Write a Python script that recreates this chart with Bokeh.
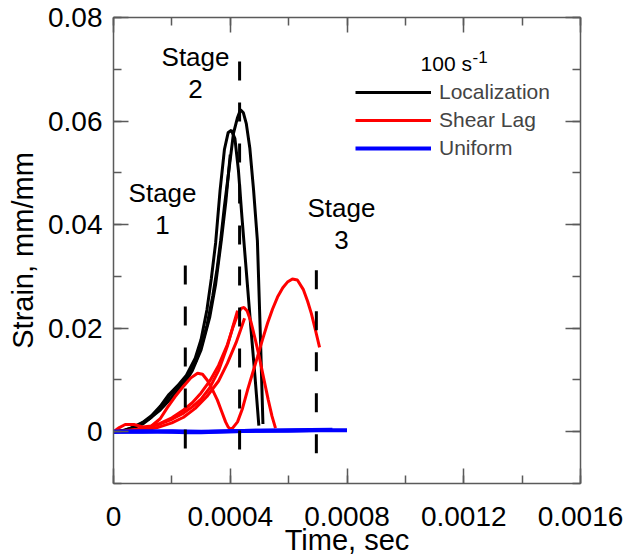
from bokeh.plotting import figure
from bokeh.models import (Range1d, LinearAxis, SingleIntervalTicker, CustomJSTickFormatter,
                          Label, Legend, LegendItem, ColumnDataSource)
from bokeh.core.properties import value
from bokeh.embed import file_html
from bokeh.resources import INLINE

FONT = "Liberation Sans"

# ---------------- data ----------------
# Localization (black)
loc_x1 = [0, 0.00003, 0.00006, 0.0001, 0.00013, 0.00016, 0.00019, 0.00022, 0.00025, 0.00028, 0.0003,
          0.00032, 0.000335, 0.00035, 0.000365, 0.00038, 0.000393, 0.000404, 0.000416, 0.000428,
          0.00044, 0.000455, 0.00047, 0.000485, 0.000498]
loc_y1 = [0, 0.0002, 0.0007, 0.0018, 0.0031, 0.0049, 0.0072, 0.0089, 0.0109, 0.0142, 0.0178,
          0.0235, 0.0295, 0.0365, 0.0465, 0.0545, 0.0578, 0.0582, 0.0566, 0.0505,
          0.0415, 0.031, 0.0205, 0.0105, 0.0012]
loc_x2 = [0, 0.00003, 0.00006, 0.0001, 0.00013, 0.00016, 0.00019, 0.00022, 0.00025, 0.00028, 0.0003,
          0.00032, 0.00034, 0.000355, 0.000367, 0.00038, 0.000394, 0.000411, 0.000425, 0.000435,
          0.000445, 0.000455, 0.000467, 0.00048, 0.000493, 0.000503, 0.000512]
loc_y2 = [0, 0.0001, 0.0005, 0.0015, 0.0028, 0.0045, 0.0068, 0.0085, 0.0104, 0.0133, 0.0163,
          0.0205, 0.0262, 0.0315, 0.0369, 0.0435, 0.0499, 0.0576, 0.0607, 0.0622,
          0.0616, 0.0595, 0.0548, 0.0466, 0.0369, 0.019, 0.0015]
loc_x3 = [0, 0.00004, 0.00008, 0.00012, 0.00016, 0.0002, 0.00024, 0.00027, 0.0003, 0.00033,
          0.00035, 0.00037, 0.000385, 0.0004]
loc_y3 = [0, 0.0003, 0.0011, 0.0024, 0.0042, 0.0066, 0.0091, 0.0118, 0.0158, 0.0222,
          0.0285, 0.0372, 0.0445, 0.0535]

# Shear Lag (red)
sl_x1 = [0, 0.00004, 0.00008, 0.00012, 0.00016, 0.0002, 0.00024, 0.00027, 0.0003, 0.00033,
         0.00036, 0.00039, 0.00041, 0.000425]
sl_y1 = [0, 0.0002, 0.0005, 0.0009, 0.0015, 0.0024, 0.0036, 0.0048, 0.0063, 0.0085,
         0.0118, 0.0165, 0.0205, 0.0234]
sl_x2 = [0, 0.00004, 0.00008, 0.00012, 0.00016, 0.0002, 0.00024, 0.00027, 0.0003, 0.00033,
         0.00036, 0.00039, 0.00041, 0.000425, 0.000437, 0.000447, 0.000458, 0.00047, 0.000485,
         0.0005, 0.000515, 0.00053, 0.000543, 0.000555]
sl_y2 = [0, 0.0001, 0.0004, 0.0009, 0.0016, 0.0027, 0.0042, 0.0056, 0.0075, 0.0098,
         0.0128, 0.0168, 0.0203, 0.0226, 0.0238, 0.024, 0.0233, 0.0214, 0.018,
         0.0143, 0.0102, 0.0062, 0.003, 0.0007]
sl_x3 = [0, 0.00005, 0.0001, 0.00015, 0.0002, 0.00024, 0.00028, 0.00032, 0.00036, 0.00039,
         0.00042, 0.000435, 0.000449]
sl_y3 = [0, 0.0001, 0.0003, 0.0008, 0.0017, 0.0028, 0.0045, 0.0068, 0.0098, 0.0132,
         0.0172, 0.0196, 0.0219]
sl_x4 = [0, 0.00002, 0.00004, 0.00007, 0.0001, 0.00013, 0.00016, 0.000185, 0.00021, 0.00024,
         0.000265, 0.000288, 0.000305, 0.000322, 0.00034, 0.000356, 0.00037, 0.000384, 0.000393,
         0.0004, 0.000408, 0.000425, 0.000442, 0.000459, 0.000476, 0.000493, 0.00051, 0.000528,
         0.000545, 0.000562, 0.00058, 0.000596, 0.000613, 0.00063, 0.00065, 0.000665, 0.000678,
         0.000692, 0.000706]
sl_y4 = [0, 0.0008, 0.0014, 0.0014, 0.0009, 0.0011, 0.0025, 0.0047, 0.0067, 0.0088,
         0.0104, 0.0113, 0.0111, 0.0099, 0.008, 0.0061, 0.004, 0.0019, 0.0009,
         0.0005, 0.0007, 0.0019, 0.0045, 0.008, 0.0112, 0.0144, 0.0177, 0.021,
         0.0237, 0.026, 0.0278, 0.0289, 0.0295, 0.0293, 0.0275, 0.0252, 0.0228,
         0.0196, 0.0163]

# Uniform (blue)
uni_x1 = [0, 0.0001, 0.0002, 0.0003, 0.0004, 0.0005, 0.0006, 0.0007, 0.0008]
uni_y1 = [0, 0.0, 0.0001, 0.0, 0.0001, 0.0002, 0.0002, 0.0003, 0.0003]
uni_x2 = [0, 0.0001, 0.0002, 0.00025, 0.0003, 0.0004, 0.0005, 0.0006, 0.00075]
uni_y2 = [0, 0.0001, 0.0, -0.0001, -0.0001, 0.0001, 0.0002, 0.0003, 0.0004]

# stage boundaries (dashed)
dash_x = [0.000246, 0.000432, 0.000695]
dash_top = [0.0321, 0.0715, 0.0312]
dash_bottom = [-0.0036, -0.004, -0.0046]

# stage annotations
stage_word = ["Stage", "Stage", "Stage"]
stage_num = ["1", "2", "3"]
stage_x = [0.000168, 0.000281, 0.000781]
stage_y = [0.0461, 0.0724, 0.0432]

legend_labels = ["Localization", "Shear Lag", "Uniform"]
x_ticks_interval = 0.0004
y_ticks_interval = 0.02

# ---------------- figure ----------------
p = figure(width=626, height=560, output_backend="svg", toolbar_location=None,
           x_range=Range1d(0, 0.0016), y_range=Range1d(-0.01, 0.08),
           x_axis_type=None, y_axis_type=None,
           min_border_left=113, min_border_right=46, min_border_top=17, min_border_bottom=77)
p.outline_line_color = None
p.background_fill_color = "white"
p.border_fill_color = "white"

xt = SingleIntervalTicker(interval=x_ticks_interval, num_minor_ticks=2)
yt = SingleIntervalTicker(interval=y_ticks_interval, num_minor_ticks=2)
xfmt = CustomJSTickFormatter(code=r"return tick.toFixed(4).replace(/\.?0+$/, '');")
yfmt = CustomJSTickFormatter(code=r"return tick.toFixed(2).replace(/\.?0+$/, '');")
blank = CustomJSTickFormatter(code="return '';")

AX = "#5a5a5a"

def style(ax, labels=True):
    ax.axis_line_color = AX
    ax.axis_line_width = 1.5
    ax.major_tick_line_color = AX
    ax.minor_tick_line_color = AX
    ax.major_tick_line_width = 1.5
    ax.minor_tick_line_width = 1.5
    ax.major_tick_in = 15
    ax.major_tick_out = 0
    ax.minor_tick_in = 8
    ax.minor_tick_out = 0
    ax.major_label_text_font = FONT
    ax.major_label_text_font_size = "28px"
    ax.major_label_text_color = "black"
    ax.axis_label_text_font = FONT
    ax.axis_label_text_font_size = "29px"
    ax.axis_label_text_font_style = "normal"
    ax.axis_label_text_color = "black"
    if not labels:
        ax.major_label_standoff = 0
        ax.major_label_text_font_size = "1px"

xb = LinearAxis(ticker=xt, formatter=xfmt, axis_label="Time, sec")
style(xb)
xb.major_label_standoff = 23
xb.axis_label_standoff = -5
p.add_layout(xb, "below")

xa = LinearAxis(ticker=xt, formatter=blank)
style(xa, False)
p.add_layout(xa, "above")

yl = LinearAxis(ticker=yt, formatter=yfmt, axis_label="Strain, mm/mm")
style(yl)
yl.major_label_standoff = 11
yl.axis_label_standoff = 6
p.add_layout(yl, "left")

yr = LinearAxis(ticker=yt, formatter=blank)
style(yr, False)
p.add_layout(yr, "right")

# curves
r_loc = p.multi_line(xs=[loc_x1, loc_x2, loc_x3], ys=[loc_y1, loc_y2, loc_y3],
                     line_color="black", line_width=3)
r_sl = p.multi_line(xs=[sl_x1, sl_x2, sl_x3, sl_x4], ys=[sl_y1, sl_y2, sl_y3, sl_y4],
                    line_color="#ff0000", line_width=3)
r_uni = p.multi_line(xs=[uni_x1, uni_x2], ys=[uni_y1, uni_y2],
                     line_color="#0000ff", line_width=4)

# dashed stage boundaries
p.segment(x0=dash_x, y0=dash_top, x1=dash_x, y1=dash_bottom,
          line_color="black", line_width=3, line_dash="19 22")

# stage texts
src = ColumnDataSource(dict(x=stage_x, y=stage_y, w=stage_word, n=stage_num))
p.text(x="x", y="y", text="w", source=src, text_align="center", text_baseline="alphabetic",
       text_font=value(FONT), text_font_size="26px", text_color="black")
p.text(x="x", y="y", text="n", source=src, text_align="center", text_baseline="alphabetic",
       y_offset=32, text_font=value(FONT), text_font_size="26px", text_color="black")

# legend
legend = Legend(items=[LegendItem(label=legend_labels[0], renderers=[r_loc]),
                       LegendItem(label=legend_labels[1], renderers=[r_sl]),
                       LegendItem(label=legend_labels[2], renderers=[r_uni])],
                location=(242, 321))
legend.label_text_font = FONT
legend.label_text_font_size = "21px"
legend.glyph_width = 76
legend.glyph_height = 28
legend.label_height = 28
legend.label_standoff = 8
legend.spacing = 0
legend.padding = 0
legend.margin = 0
legend.border_line_color = None
legend.background_fill_alpha = 0
p.add_layout(legend, "center")

# legend title "100 s^-1"
p.add_layout(Label(x=0.001052, y=0.0711, text="100 s", text_align="left", text_baseline="alphabetic",
                   text_font=FONT, text_font_size="21px", text_color="black"))
p.add_layout(Label(x=0.001052, y=0.0711, x_offset=52, y_offset=7, text="-1", text_align="left",
                   text_baseline="alphabetic", text_font=FONT, text_font_size="17px", text_color="black"))

open("out.html", "w").write(file_html(p, INLINE))
